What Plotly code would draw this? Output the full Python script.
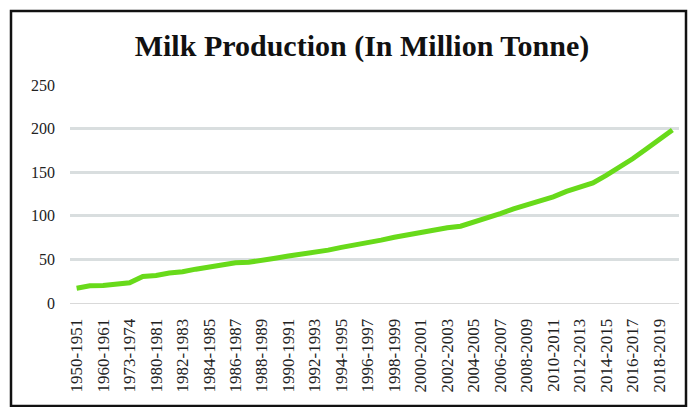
import plotly.graph_objects as go

years = [
    "1950-1951", "1955-1956", "1960-1961", "1968-1969", "1973-1974", "1979-1980",
    "1980-1981", "1981-1982", "1982-1983", "1983-1984", "1984-1985", "1985-1986",
    "1986-1987", "1987-1988", "1988-1989", "1989-1990", "1990-1991", "1991-1992",
    "1992-1993", "1993-1994", "1994-1995", "1995-1996", "1996-1997", "1997-1998",
    "1998-1999", "1999-2000", "2000-2001", "2001-2002", "2002-2003", "2003-2004",
    "2004-2005", "2005-2006", "2006-2007", "2007-2008", "2008-2009", "2009-2010",
    "2010-2011", "2011-2012", "2012-2013", "2013-2014", "2014-2015", "2015-2016",
    "2016-2017", "2017-2018", "2018-2019", "2019-2020",
]
milk = [
    17.0, 19.7, 20.0, 21.2, 23.2, 30.4,
    31.6, 34.3, 35.8, 38.8, 41.5, 44.0,
    46.1, 46.7, 48.4, 51.4, 53.9, 55.7,
    58.0, 60.6, 63.8, 66.2, 69.1, 72.1,
    75.4, 78.3, 80.6, 84.4, 86.2, 88.1,
    92.5, 97.1, 102.6, 107.9, 112.2, 116.4,
    121.8, 127.9, 132.4, 137.7, 146.3, 155.5,
    165.4, 176.3, 187.7, 198.4,
]
y_ticks = [0, 50, 100, 150, 200, 250]
shown_labels = years[::2]

font_fam = "Liberation Serif, Times New Roman, serif"

fig = go.Figure()
fig.add_trace(go.Scatter(
    x=years, y=milk, mode="lines",
    line=dict(color="#68DA1A", width=5, shape="linear"),
    showlegend=False, hoverinfo="x+y",
))

W, H = 691, 407
ml, mr, mt, mb = 70, 12, 85, 104
pw, ph = W - ml - mr, H - mt - mb

def px_to_paper_x(px):
    return (px - ml) / pw

def px_to_paper_y(py):
    return (H - mb - py) / ph

fig.update_layout(
    width=W, height=H,
    margin=dict(l=ml, r=mr, t=mt, b=mb),
    paper_bgcolor="white", plot_bgcolor="white",
    font=dict(family=font_fam, color="#222222"),
    title=dict(
        text="<b>Milk Production (In Million Tonne)</b>",
        font=dict(family=font_fam, size=30, color="#111111"),
        x=362 / W, xanchor="center", y=1 - 45 / H, yanchor="middle",
    ),
    xaxis=dict(
        type="category",
        range=[-0.5, len(years) - 0.5],
        tickmode="array", tickvals=shown_labels, ticktext=shown_labels,
        tickangle=-90,
        tickfont=dict(family=font_fam, size=17, color="#222222"),
        showgrid=False, showline=True, linecolor="#D9D9D9", linewidth=1,
        ticks="", ticklabelstandoff=8,
    ),
    yaxis=dict(
        range=[0, 250],
        tickmode="array", tickvals=y_ticks,
        tickfont=dict(family=font_fam, size=16, color="#222222"),
        showgrid=True, gridcolor="#D9DEDF", gridwidth=2.5,
        zeroline=False, showline=False, ticks="", ticklabelstandoff=14,
    ),
    shapes=[dict(
        type="rect", xref="paper", yref="paper",
        x0=px_to_paper_x(11), x1=px_to_paper_x(686),
        y0=px_to_paper_y(406), y1=px_to_paper_y(11),
        line=dict(color="#111111", width=2.5), fillcolor="rgba(0,0,0,0)",
        layer="above",
    )],
)

fig.write_html("out.html")
